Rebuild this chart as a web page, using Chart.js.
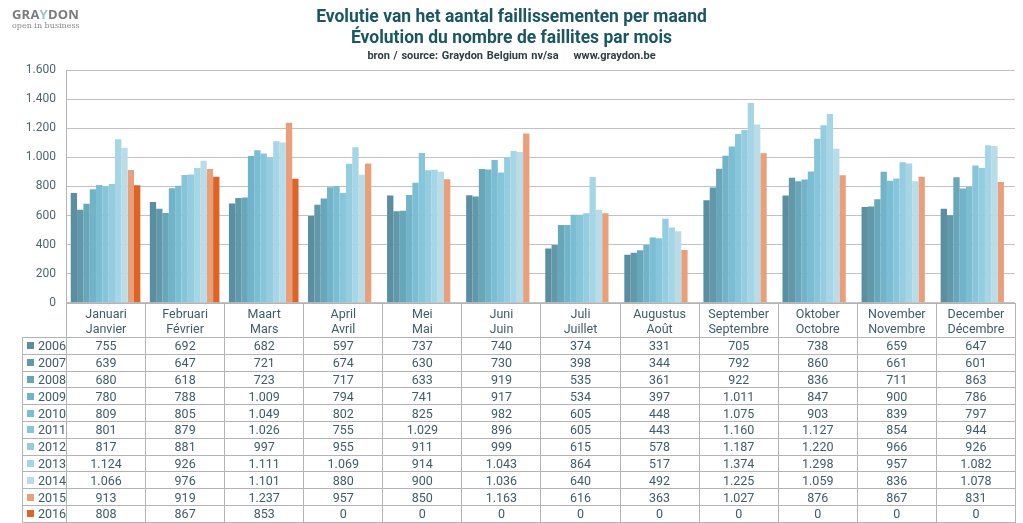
<!DOCTYPE html>
<html>
<head>
<meta charset="utf-8">
<script src="https://cdn.jsdelivr.net/npm/chart.js@4.4.1/dist/chart.umd.min.js"></script>
<style>
  body { margin: 0; width: 1023px; height: 523px; overflow: hidden; background: #fff; font-family: Roboto, sans-serif; position: relative; }
  #logo { position: absolute; left: 12px; top: 7px; }
  #logo .brand { font-family: "Open Sans", sans-serif; font-weight: 700; font-size: 13px; color: #7c7c7c; letter-spacing: 0.2px; line-height: 14px; }
  #logo .brand span { color: #9cc3d3; }
  #logo .tag { font-family: "DejaVu Serif", serif; font-size: 8px; color: #8a8a8a; line-height: 10px; }
  #titles { position: absolute; left: 0; width: 1023px; top: 6px; text-align: center; color: #1b5663; font-weight: 700; }
  #titles .t1 { font-size: 17.5px; line-height: 21px; }
  #titles .t3 { font-size: 11px; line-height: 14px; color: #2c3e44; margin-top: 1px; word-spacing: 1px; }
  #box { position: absolute; left: 0; top: 0; }
  table { position: absolute; left: 22px; top: 302px; border-collapse: collapse; table-layout: fixed; color: #3f5d68; font-size: 12.5px; }
  th { font-weight: 400; height: 33px; line-height: 15px; border: 1px solid #b4b4b4; padding: 0; }
  th.blank { border: none; border-right: 1px solid #b4b4b4; }
  td { border: 1px solid #b4b4b4; height: 15.8px; padding: 0; text-align: center; line-height: 15px; }
  td.leg { text-align: left; padding-left: 4px; white-space: nowrap; }
  td.leg i { display: inline-block; width: 7px; height: 7px; margin-right: 4px; vertical-align: 1px; }
</style>
</head>
<body>
<div id="box"><canvas id="c" width="1023" height="320"></canvas></div>
<div id="logo"><div class="brand">GRA<span>Y</span>DON</div><div class="tag">open in business</div></div>
<div id="titles">
  <div class="t1">Evolutie van het aantal faillissementen per maand</div>
  <div class="t1">Évolution du nombre de faillites par mois</div>
  <div class="t3">bron / source: Graydon Belgium nv/sa &nbsp;&nbsp; www.graydon.be</div>
</div>
<table id="tbl"></table>
<script>
// months (NL / FR)
const monthsNL = ['Januari', 'Februari', 'Maart', 'April', 'Mei', 'Juni', 'Juli', 'Augustus', 'September', 'Oktober', 'November', 'December'];
const monthsFR = ['Janvier', 'Février', 'Mars', 'Avril', 'Mai', 'Juin', 'Juillet', 'Août', 'Septembre', 'Octobre', 'Novembre', 'Décembre'];
const years = ['2006', '2007', '2008', '2009', '2010', '2011', '2012', '2013', '2014', '2015', '2016'];

const y2006 = [755, 692, 682, 597, 737, 740, 374, 331, 705, 738, 659, 647];
const y2007 = [639, 647, 721, 674, 630, 730, 398, 344, 792, 860, 661, 601];
const y2008 = [680, 618, 723, 717, 633, 919, 535, 361, 922, 836, 711, 863];
const y2009 = [780, 788, 1009, 794, 741, 917, 534, 397, 1011, 847, 900, 786];
const y2010 = [809, 805, 1049, 802, 825, 982, 605, 448, 1075, 903, 839, 797];
const y2011 = [801, 879, 1026, 755, 1029, 896, 605, 443, 1160, 1127, 854, 944];
const y2012 = [817, 881, 997, 955, 911, 999, 615, 578, 1187, 1220, 966, 926];
const y2013 = [1124, 926, 1111, 1069, 914, 1043, 864, 517, 1374, 1298, 957, 1082];
const y2014 = [1066, 976, 1101, 880, 900, 1036, 640, 492, 1225, 1059, 836, 1078];
const y2015 = [913, 919, 1237, 957, 850, 1163, 616, 363, 1027, 876, 867, 831];
const y2016 = [808, 867, 853, 0, 0, 0, 0, 0, 0, 0, 0, 0];

const yTicks = [0, 200, 400, 600, 800, 1000, 1200, 1400, 1600];

const series = [y2006, y2007, y2008, y2009, y2010, y2011, y2012, y2013, y2014, y2015, y2016];
const colors = ['#5a8ea0', '#6199ab', '#68a6b9', '#71b3c8', '#7bbdd3', '#87c6da', '#95cde0', '#a6d5e5', '#b8dde9', '#e99f7a', '#dd6326'];

const fmt = v => v.toString().replace(/\B(?=(\d{3})+(?!\d))/g, '.');

const chart = new Chart(document.getElementById('c'), {
  type: 'bar',
  data: {
    labels: monthsNL,
    datasets: series.map((d, i) => ({
      label: years[i],
      data: d,
      backgroundColor: colors[i],
      borderWidth: 0,
      barPercentage: 1.0,
      categoryPercentage: 0.88
    }))
  },
  options: {
    responsive: false,
    animation: false,
    layout: { padding: { top: 70, right: 8, bottom: 0, left: 0 } },
    plugins: { legend: { display: false }, tooltip: { enabled: false } },
    scales: {
      x: { display: false },
      y: {
        min: 0,
        max: 1600,
        afterBuildTicks: s => { s.ticks = yTicks.map(v => ({ value: v })); },
        afterFit: s => { s.width = 66; },
        ticks: { color: '#4f6770', font: { family: 'Roboto', size: 12 }, padding: 10, callback: v => fmt(v) },
        grid: { color: '#c2c2c2', drawTicks: false },
        border: { display: true, color: '#b4b4b4' }
      }
    }
  }
});

// data table under the chart, columns lined up with the x scale
const area = chart.chartArea;
const colW = (area.right - area.left) / monthsNL.length;
const tbl = document.getElementById('tbl');
let html = '<colgroup><col style="width:' + (area.left - 22) + 'px">';
monthsNL.forEach(() => { html += '<col style="width:' + colW + 'px">'; });
html += '</colgroup><tr><th class="blank"></th>';
monthsNL.forEach((m, i) => { html += '<th>' + m + '<br>' + monthsFR[i] + '</th>'; });
html += '</tr>';
series.forEach((d, i) => {
  html += '<tr><td class="leg"><i style="background:' + colors[i] + '"></i>' + years[i] + '</td>';
  d.forEach(v => { html += '<td>' + fmt(v) + '</td>'; });
  html += '</tr>';
});
tbl.innerHTML = html;
tbl.style.width = (area.right - 22) + 'px';
tbl.style.top = Math.round(area.bottom) + 'px';
</script>
</body>
</html>
